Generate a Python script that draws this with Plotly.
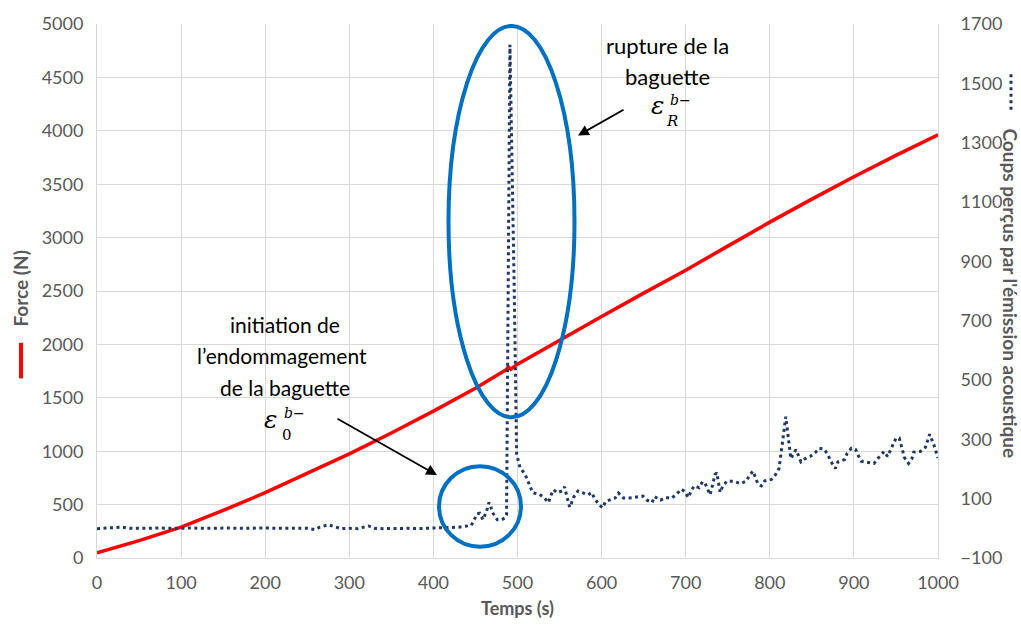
import plotly.graph_objects as go

# Force curve (left axis), N versus time in s
time_force = [0, 50, 100, 150, 200, 250, 300, 350, 400, 450, 487, 489, 492, 500,
              550, 600, 650, 700, 750, 800, 850, 900, 950, 1000]
force_n = [49, 162, 289, 445, 612, 790, 975, 1170, 1375, 1590, 1765, 1790, 1768, 1815,
           2040, 2262, 2480, 2695, 2920, 3145, 3360, 3570, 3770, 3962]

# Acoustic emission hits (right axis)
time_ae = [0, 10, 20, 30, 40, 50, 60, 70, 80, 90, 100, 110, 120, 130, 140, 150, 160, 170,
           180, 190, 200, 210, 220, 230, 240, 250, 259, 265, 275, 283, 290, 300, 310, 323,
           330, 340, 350, 360, 370, 380, 390, 400, 410, 420, 430, 438, 445, 448, 452, 455,
           459, 461, 464, 466, 468, 470, 473, 476, 481, 485, 487, 491, 496, 499, 503, 509,
           512, 515, 518, 526, 532, 537, 539, 543, 547, 553, 556, 558, 562, 564, 567, 572,
           578, 584, 588, 592, 597, 601, 605, 610, 616, 620, 626, 633, 640, 649, 654, 660,
           663, 670, 676, 683, 689, 695, 699, 703, 706, 710, 716, 720, 723, 729, 735, 737,
           741, 744, 749, 757, 765, 772, 776, 780, 786, 790, 794, 802, 807, 811, 819, 825,
           828, 831, 834, 837, 842, 848, 854, 859, 864, 869, 872, 878, 881, 889, 892, 897,
           902, 905, 909, 917, 924, 929, 936, 940, 943, 950, 954, 958, 960, 965, 969, 971,
           979, 985, 990, 995, 998, 1000]
ae_counts = [-1, 0, 1, 4, 0, -1, 0, 1, 0, -1, 0, 1, 0, -1, 0, 1, 0, -1,
             0, 1, 1, 0, -1, 0, 1, 0, -4, 4, 12, 4, -1, 0, -1, 8,
             0, -1, 0, 1, 0, -1, 0, 0, 1, 1, 4, 7, 10, 26, 49, 51,
             29, 43, 65, 87, 76, 54, 43, 29, 29, 35, 45, 1630, 825, 250, 205, 182,
             162, 140, 120, 115, 102, 87, 107, 130, 120, 126, 140, 115, 71, 84, 106, 126,
             120, 113, 121, 99, 80, 69, 91, 95, 102, 119, 102, 102, 106, 109, 95, 87,
             107, 95, 104, 101, 115, 132, 124, 104, 123, 143, 137, 157, 152, 113, 182, 187,
             121, 142, 159, 159, 151, 159, 179, 193, 149, 143, 160, 165, 182, 202, 376, 235,
             250, 265, 246, 224, 235, 242, 255, 270, 268, 250, 228, 202, 224, 232, 253, 270,
             266, 246, 226, 222, 219, 237, 259, 242, 262, 304, 304, 259, 239, 219, 235, 257,
             259, 273, 317, 282, 259, 237]

x_ticks = list(range(0, 1001, 100))
force_ticks = list(range(0, 5001, 500))
ae_ticks = list(range(-100, 1701, 200))

# plot-area geometry in pixels
W, H = 1021, 627
L, R, T, B = 97, 938, 17, 558

def xp(px):
    return (px - L) / (R - L)

def yp(py):
    return (B - py) / (B - T)

GRID = "#D9D9D9"
GREY = "#595959"
BLUE = "#0070C0"
NAVY = "#1F3864"
TXT = "Lato"

fig = go.Figure()
fig.add_trace(go.Scatter(x=time_force, y=force_n, mode="lines",
                         line=dict(color="#FF0000", width=3.5), yaxis="y",
                         hoverinfo="skip"))
fig.add_trace(go.Scatter(x=time_ae, y=ae_counts, mode="lines",
                         line=dict(color=NAVY, width=3, dash="3px,3.5px"), yaxis="y2",
                         hoverinfo="skip"))

axis_font = dict(family=TXT, size=18, color=GREY)
fig.update_layout(
    width=W, height=H,
    margin=dict(l=L, r=W - R, t=T, b=H - B, pad=0),
    paper_bgcolor="white", plot_bgcolor="white",
    showlegend=False,
    xaxis=dict(range=[0, 1000], tickvals=x_ticks, showgrid=True, gridcolor=GRID,
               gridwidth=1, zeroline=False, showline=True, linecolor=GRID,
               tickfont=axis_font, ticks="", ticklabelstandoff=8),
    yaxis=dict(range=[0, 5000], tickvals=force_ticks, showgrid=True, gridcolor=GRID,
               gridwidth=1, zeroline=False, showline=True, linecolor=GRID,
               tickfont=axis_font, ticks="", ticklabelstandoff=9),
    yaxis2=dict(range=[-100, 1700], tickvals=ae_ticks, overlaying="y", side="right",
                showgrid=False, zeroline=False, showline=True, linecolor=GRID,
                tickfont=axis_font, ticks="", ticklabelstandoff=18),
)

def px_to_t(px):
    return (px - L) * 1000 / (R - L)

def py_to_f(py):
    return (B - py) * 5000 / (B - T)

# highlight ellipses
fig.add_shape(type="circle", xref="x", yref="y",
              x0=px_to_t(448.5), x1=px_to_t(574.5), y0=py_to_f(415.5), y1=py_to_f(19),
              line=dict(color=BLUE, width=4), layer="above")
fig.add_shape(type="circle", xref="x", yref="y",
              x0=px_to_t(439), x1=px_to_t(521), y0=py_to_f(546.5), y1=py_to_f(465),
              line=dict(color=BLUE, width=4), layer="above")

# arrows
fig.add_annotation(x=px_to_t(578), y=py_to_f(130), ax=px_to_t(625), ay=py_to_f(103),
                   xref="x", yref="y", axref="x", ayref="y", text="", showarrow=True,
                   arrowhead=2, arrowsize=1.2, arrowwidth=1.8, arrowcolor="black")
fig.add_annotation(x=px_to_t(437), y=py_to_f(474), ax=px_to_t(336), ay=py_to_f(416),
                   xref="x", yref="y", axref="x", ayref="y", text="", showarrow=True,
                   arrowhead=2, arrowsize=1.2, arrowwidth=1.8, arrowcolor="black")

def label(text, px, py, size=21, family=TXT, color="black", angle=0):
    fig.add_annotation(x=xp(px), y=yp(py), xref="paper", yref="paper", text=text,
                       showarrow=False, xanchor="center", yanchor="middle",
                       textangle=angle, font=dict(family=family, size=size, color=color))

label("rupture de la", 667, 39, size=22)
label("baguette", 667, 70, size=22)
label("<i>ε</i>", 657, 100, size=25, family="DejaVu Serif")
label("<i>b−</i>", 680, 94, size=14, family="DejaVu Serif")
label("<i>R</i>", 672, 115, size=15, family="DejaVu Serif")

label("initiation de", 285, 321)
label("l’endommagement", 282, 353)
label("de la baguette", 285, 385)
label("<i>ε</i>", 270, 418, size=25, family="DejaVu Serif")
label("<i>b−</i>", 294, 411, size=14, family="DejaVu Serif")
label("0", 287, 433, size=15, family="DejaVu Serif")

# axis titles with their series keys
label("<b>Temps (s)</b>", 517, 609, size=18, color=GREY)
label("<b>Force (N)</b>", 21, 285, size=19, color=GREY, angle=-90)
label("<b>Coups perçus par l'émission acoustique</b>", 1011, 290, size=19, color=GREY, angle=90)

fig.add_shape(type="line", xref="paper", yref="paper", x0=xp(21), x1=xp(21),
              y0=yp(340), y1=yp(376), line=dict(color="#FF0000", width=4))
fig.add_shape(type="line", xref="paper", yref="paper", x0=xp(1011), x1=xp(1011),
              y0=yp(68), y1=yp(106), line=dict(color=NAVY, width=3, dash="3px,3.5px"))

fig.write_html("out.html")
